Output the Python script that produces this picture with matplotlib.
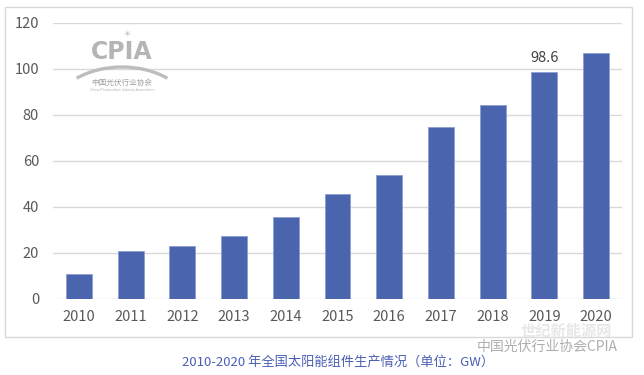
import matplotlib
matplotlib.use('Agg')
import matplotlib.pyplot as plt
from matplotlib.patches import Rectangle, Arc

plt.rcParams['font.family'] = ['Noto Sans CJK SC', 'DejaVu Sans']

years = ['2010', '2011', '2012', '2013', '2014', '2015',
         '2016', '2017', '2018', '2019', '2020']
output_gw = [10.8, 21.0, 22.9, 27.3, 35.5, 45.8, 53.8, 75.0, 84.2, 98.6, 106.8]
labelled_year = '2019'
y_ticks = [0, 20, 40, 60, 80, 100, 120]
caption = '2010-2020 年全国太阳能组件生产情况（单位：GW）'

fig = plt.figure(figsize=(6.44, 3.75), dpi=100)
fig.patch.set_facecolor('white')

# light frame around the chart area
fig.patches.append(Rectangle((5 / 644, 1 - 337 / 375), 627 / 644, 330 / 375,
                             transform=fig.transFigure, fill=False,
                             edgecolor='#d9d9d9', linewidth=1.0))

ax = fig.add_axes([53 / 644, 1 - 299 / 375, 569 / 644, 276 / 375])
x = range(len(years))
ax.bar(x, output_gw, width=0.5, color='#4a65ad', edgecolor='#8c9fd0',
       linewidth=0.6, zorder=3)
ax.set_xlim(-0.5, len(years) - 0.5)
ax.set_ylim(0, 120)
ax.set_yticks(y_ticks)
ax.set_xticks(list(x))
ax.set_xticklabels(years)
ax.grid(axis='y', color='#d9d9d9', linewidth=1.0, zorder=0)
for s in ax.spines.values():
    s.set_visible(False)
ax.tick_params(length=0, colors='#595959', labelsize=10.5)
ax.tick_params(axis='y', pad=10)
ax.tick_params(axis='x', pad=8)

i = years.index(labelled_year)
ax.annotate(f'{output_gw[i]:.1f}', (i, output_gw[i]), xytext=(0, 5),
            textcoords='offset points', ha='center', va='bottom',
            fontsize=10.5, color='#404040')

# CPIA logo watermark (top left), drawn in a pixel-coordinate overlay
logo = fig.add_axes([0, 0, 1, 1], zorder=5)
logo.set_xlim(0, 644)
logo.set_ylim(375, 0)
logo.axis('off')
logo.patch.set_alpha(0)
logo.add_patch(Arc((122, 115), 141, 96, theta1=219, theta2=321,
                   color='#bdbdbd', linewidth=2.4))
logo.text(122, 52, 'CPIA', ha='center', va='center', fontsize=17,
          fontweight='bold', color='#b5b5b5',
          family=['Liberation Sans Narrow', 'DejaVu Sans'])
logo.text(127, 34, '☀', ha='center', va='center', fontsize=7,
          color='#c8c8c8', family=['DejaVu Sans'])
logo.text(122, 83, '中国光伏行业协会', ha='center', va='center',
          fontsize=5.5, color='#a0a0a0')
logo.text(122, 89.5, 'China Photovoltaic Industry Association',
          ha='center', va='center', fontsize=2.5, color='#b0b0b0')

# caption
fig.text(338 / 644, 1 - 362 / 375, caption, ha='center', va='center',
         fontsize=9.5, color='#4a5fb5')

# source watermark (bottom right)
fig.text(566 / 644, 1 - 331 / 375, '世纪新能源网', ha='center', va='center',
         fontsize=11, color='#e8e8e8', style='italic', fontweight='bold')
fig.text(547 / 644, 1 - 347 / 375, '中国光伏行业协会CPIA', ha='center', va='center',
         fontsize=10, color='#9a9a9a', alpha=0.8)

fig.savefig('out.png', dpi=100)
